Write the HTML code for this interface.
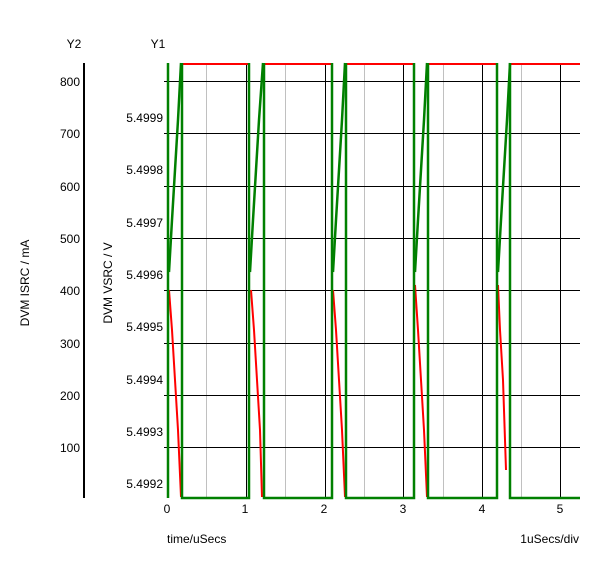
<!DOCTYPE html>
<html><head><style>
html,body{margin:0;padding:0;background:#fff;}
svg{display:block;font-family:"Liberation Sans",sans-serif;font-size:12px;}
</style></head><body>
<svg width="600" height="563" viewBox="0 0 600 563">
<g stroke="#c0c0c0" stroke-width="1">
<line x1="206.5" y1="63" x2="206.5" y2="498"/>
<line x1="285.5" y1="63" x2="285.5" y2="498"/>
<line x1="364.5" y1="63" x2="364.5" y2="498"/>
<line x1="443.5" y1="63" x2="443.5" y2="498"/>
<line x1="521.5" y1="63" x2="521.5" y2="498"/>
</g>
<g stroke="#000" stroke-width="1">
<line x1="246.5" y1="63" x2="246.5" y2="498"/>
<line x1="325.5" y1="63" x2="325.5" y2="498"/>
<line x1="403.5" y1="63" x2="403.5" y2="498"/>
<line x1="482.5" y1="63" x2="482.5" y2="498"/>
<line x1="560.5" y1="63" x2="560.5" y2="498"/>
<line x1="164" y1="81.5" x2="580" y2="81.5"/>
<line x1="164" y1="133.5" x2="580" y2="133.5"/>
<line x1="164" y1="186.5" x2="580" y2="186.5"/>
<line x1="164" y1="238.5" x2="580" y2="238.5"/>
<line x1="164" y1="290.5" x2="580" y2="290.5"/>
<line x1="164" y1="343.5" x2="580" y2="343.5"/>
<line x1="164" y1="395.5" x2="580" y2="395.5"/>
<line x1="164" y1="447.5" x2="580" y2="447.5"/>
</g>
<rect x="83" y="63" width="2" height="435" fill="#000"/>
<g stroke="#ff0000" stroke-width="2" fill="none">
<line x1="182" y1="64" x2="248" y2="64"/>
<line x1="264" y1="64" x2="332" y2="64"/>
<line x1="347" y1="64" x2="415" y2="64"/>
<line x1="429" y1="64" x2="497" y2="64"/>
<line x1="511" y1="64" x2="580" y2="64"/>
<polyline points="169,290 172,330 175,380 178,430 181,497"/>
<polyline points="251,290 254,330 257,380 260,430 262,497"/>
<polyline points="333,290 336,330 339,380 342,430 345,497"/>
<polyline points="415,285 418,330 421,380 424,430 427,497"/>
<polyline points="498,285 500,330 503,380 506,470"/>
</g>
<g stroke="#008000" stroke-width="2.5" fill="none">
<line x1="168" y1="63" x2="168" y2="498"/>
<polyline points="169,272 172,220 175,170 178,120 181,63"/>
<polyline points="182,63 182,498 249,498 249,63"/>
<polyline points="250,272 253,220 256,170 259,120 263,63"/>
<polyline points="264,63 264,498 332,498 332,63"/>
<polyline points="333,272 336,220 339,170 342,120 345,63"/>
<polyline points="346,63 346,498 414,498 414,63"/>
<polyline points="415,272 418,220 421,170 424,120 427,63"/>
<polyline points="428,63 428,498 497,498 497,63"/>
<polyline points="498,272 501,220 504,170 507,120 510,63"/>
<polyline points="510,63 510,498 580,498"/>
</g>
<g stroke="#000"><line x1="164" y1="81.5" x2="167" y2="81.5"/></g>
<g fill="#000" text-anchor="end">
<text x="80" y="86">800</text>
<text x="80" y="138">700</text>
<text x="80" y="191">600</text>
<text x="80" y="243">500</text>
<text x="80" y="295">400</text>
<text x="80" y="348">300</text>
<text x="80" y="400">200</text>
<text x="80" y="452">100</text>
<text x="163" y="122">5.4999</text>
<text x="163" y="174">5.4998</text>
<text x="163" y="227">5.4997</text>
<text x="163" y="279">5.4996</text>
<text x="163" y="331">5.4995</text>
<text x="163" y="384">5.4994</text>
<text x="163" y="436">5.4993</text>
<text x="163" y="488">5.4992</text>
</g>
<g fill="#000" text-anchor="middle">
<text x="74" y="48">Y2</text>
<text x="158" y="48">Y1</text>
<text x="167" y="513">0</text>
<text x="245" y="513">1</text>
<text x="324" y="513">2</text>
<text x="403" y="513">3</text>
<text x="482" y="513">4</text>
<text x="560" y="513">5</text>
</g>
<text x="167" y="543" fill="#000">time/uSecs</text>
<text x="579" y="543" fill="#000" text-anchor="end">1uSecs/div</text>
<text transform="translate(29,283) rotate(-90)" text-anchor="middle" fill="#000">DVM ISRC / mA</text>
<text transform="translate(112,283) rotate(-90)" text-anchor="middle" fill="#000">DVM VSRC / V</text>
</svg>
</body></html>
